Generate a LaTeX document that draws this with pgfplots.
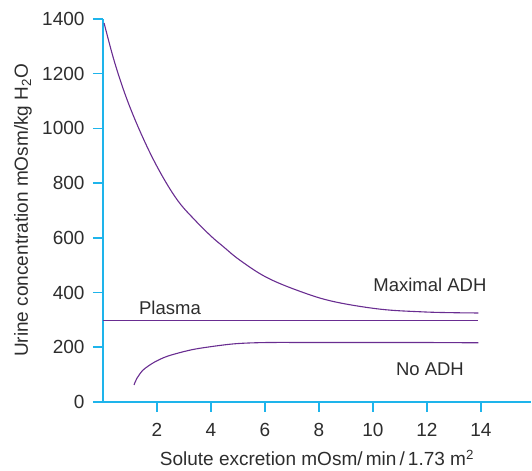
\documentclass[border=0pt]{standalone}
\usepackage{fontspec}
\setmainfont{Liberation Sans}
\usepackage{pgfplots}
\pgfplotsset{compat=1.18}
\definecolor{axcyan}{RGB}{30,180,235}
\definecolor{curve}{RGB}{105,45,145}
\definecolor{txt}{RGB}{45,45,45}
\begin{document}
\begin{tikzpicture}
\begin{axis}[
  x=27pt, y=0.2736pt,
  xmin=0, xmax=15.85, ymin=0, ymax=1400,
  axis x line*=bottom, axis y line*=left,
  axis line style={axcyan, line width=1.6pt, -},
  xtick={2,4,...,14}, ytick={0,200,...,1400},
  minor tick num=0,
  tick align=outside,
  major tick length=10pt,
  every major tick/.style={draw=axcyan, line width=1.6pt},
  /pgf/number format/assume math mode=true,
  /pgf/number format/1000 sep={},
  tick label style={font=\fontsize{19}{22}\selectfont, text=txt},
  yticklabel style={xshift=-5pt},
  xticklabel style={yshift=-8pt},
  label style={font=\fontsize{19}{22}\selectfont, text=txt},
  xlabel={Solute excretion mOsm/\,min\,/\,1.73 m\textsuperscript{2}},
  ylabel={Urine concentration mOsm/kg H\textsubscript{2}O},
  xlabel style={at={(axis description cs:0.5,0)}, anchor=base, yshift=-64pt},
  ylabel style={at={(axis description cs:-0.187,0.5)}, anchor=center},
  clip=false,
]
\addplot[curve, line width=1.1pt, smooth, tension=0.6] coordinates {
 (0.04,1385) (0.44,1238) (0.94,1092) (1.56,948) (2.17,830) (2.79,733)
 (3.41,664) (4.0,606) (4.45,568) (5.07,518) (6.06,455) (7.3,404)
 (8.53,367) (10.26,339) (11.85,329) (13,326) (13.9,325)};
\addplot[curve, line width=1.1pt] coordinates {(0,297) (13.9,297)};
\addplot[curve, line width=1.1pt, smooth] coordinates {
 (1.15,62) (1.25,85) (1.49,117) (1.9,145) (2.36,166) (3,184) (3.59,196)
 (4.83,212) (6.06,217) (8,217) (10,217) (12,217) (13.9,216)};
\node[text=txt, font=\fontsize{18.5}{22}\selectfont] at (axis cs:12.11,428) {Maximal ADH};
\node[text=txt, font=\fontsize{18.5}{22}\selectfont] at (axis cs:2.48,345) {Plasma};
\node[text=txt, font=\fontsize{18.5}{22}\selectfont] at (axis cs:12.11,121) {No ADH};
\coordinate (bl) at (axis cs:-3.815,-252);
\coordinate (tr) at (axis cs:15.89,1469);
\end{axis}
\pgfresetboundingbox
\path[use as bounding box] (bl) rectangle (tr);
\end{tikzpicture}
\end{document}
